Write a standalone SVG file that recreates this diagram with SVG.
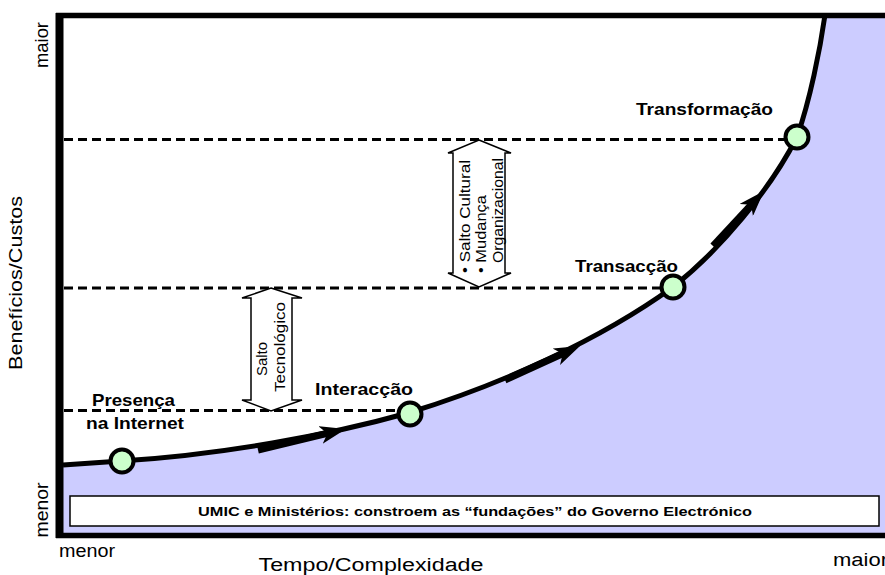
<svg xmlns="http://www.w3.org/2000/svg" width="885" height="575" viewBox="0 0 885 575">
<style>
text{font-family:"Liberation Sans",Arial,sans-serif;fill:#000}
.lbl{font-size:17px;font-weight:bold}
.ax{font-size:18px}
.sm{font-size:15px}
.dash{stroke:#000;stroke-width:3;stroke-dasharray:9 5;fill:none}
.dbl{fill:#fff;stroke:#000;stroke-width:1.5}
.node circle{fill:#CCFFCC;stroke:#000;stroke-width:4}
.thick{stroke:#000;stroke-width:7;fill:none;marker-end:url(#stealth)}
</style>
<defs>
<marker id="stealth" markerUnits="userSpaceOnUse" markerWidth="26" markerHeight="18" refX="8" refY="9" orient="auto">
<path d="M0,0 L26,9 L0,18 L7,9 Z" fill="#000"/>
</marker>
</defs>
<rect width="885" height="575" fill="#fff"/>
<g id="area">
<path d="M 63 465 C 90 463, 105 462, 121 461 C 220 455, 330 435, 408 413 C 500 385, 600 340, 673 287 C 720 250, 770 190, 797 137 C 810 100, 820 50, 825 15 L 885 15 L 885 535 L 63 535 Z" fill="#CCCCFF"/>
</g>
<g id="axes" stroke="#000" fill="none">
<line x1="59.5" y1="13" x2="59.5" y2="538" stroke-width="8"/>
<line x1="56" y1="15.5" x2="885" y2="15.5" stroke-width="5.5"/>
<line x1="56" y1="535.5" x2="885" y2="535.5" stroke-width="5.5"/>
</g>
<g id="levels">
<line class="dash" x1="64" y1="139.5" x2="797" y2="139.5"/>
<line class="dash" x1="64" y1="288" x2="673" y2="288"/>
<line class="dash" x1="64" y1="410.5" x2="410" y2="410.5"/>
</g>
<g id="salto-tecnologico">
<polygon class="dbl" points="271,288 302,298 292,298 292,400 302,400 271,411 242,400 251,400 251,298 242,298"/>
<text class="sm" transform="translate(267,359) rotate(-90)" text-anchor="middle">Salto</text>
<text class="sm" transform="translate(285,347) rotate(-90)" text-anchor="middle" textLength="90" lengthAdjust="spacingAndGlyphs">Tecnológico</text>
</g>
<g id="salto-cultural">
<polygon class="dbl" points="479,140 511,153 505,153 505,273 511,273 479,287 448,273 453,273 453,153 448,153"/>
<text class="sm" transform="translate(470,273) rotate(-90)" textLength="113" lengthAdjust="spacingAndGlyphs">• Salto Cultural</text>
<text class="sm" transform="translate(486,273) rotate(-90)" textLength="78" lengthAdjust="spacingAndGlyphs">• Mudança</text>
<text class="sm" transform="translate(503,263) rotate(-90)" textLength="105" lengthAdjust="spacingAndGlyphs">Organizacional</text>
</g>
<g id="connectors">
<path d="M 63 465 C 90 463, 105 462, 121 461 C 220 455, 330 435, 408 413 C 500 385, 600 340, 673 287 C 720 250, 770 190, 797 137 C 810 100, 820 50, 825 15" fill="none" stroke="#000" stroke-width="5"/>
<line class="thick" x1="258" y1="450" x2="328.4" y2="433.2"/>
<line class="thick" x1="505" y1="380" x2="563.6" y2="353.4"/>
<line class="thick" x1="713" y1="246" x2="751.8" y2="204.1"/>
</g>
<g id="presenca" class="node">
<circle cx="122" cy="461" r="11.5"/>
<text class="lbl" x="92" y="406" textLength="83" lengthAdjust="spacingAndGlyphs">Presença</text>
<text class="lbl" x="86" y="429" textLength="98" lengthAdjust="spacingAndGlyphs">na Internet</text>
</g>
<g id="interaccao" class="node">
<circle cx="410" cy="414" r="11.5"/>
<text class="lbl" x="315" y="395" textLength="98" lengthAdjust="spacingAndGlyphs">Interacção</text>
</g>
<g id="transaccao" class="node">
<circle cx="673" cy="287" r="11.5"/>
<text class="lbl" x="575" y="272" textLength="103" lengthAdjust="spacingAndGlyphs">Transacção</text>
</g>
<g id="transformacao" class="node">
<circle cx="797" cy="137" r="11.5"/>
<text class="lbl" x="636" y="115" textLength="137" lengthAdjust="spacingAndGlyphs">Transformação</text>
</g>
<g id="umic">
<rect x="70" y="496" width="809" height="30" fill="#fff" stroke="#000" stroke-width="1.5"/>
<text x="475" y="516" text-anchor="middle" font-size="13.5" font-weight="bold" textLength="554" lengthAdjust="spacingAndGlyphs">UMIC e Ministérios: constroem as “fundações” do Governo Electrónico</text>
</g>
<g id="axis-labels">
<text class="ax" transform="translate(48,45) rotate(-90)" text-anchor="middle" textLength="46" lengthAdjust="spacingAndGlyphs">maior</text>
<text class="ax" transform="translate(48,510) rotate(-90)" text-anchor="middle" textLength="55" lengthAdjust="spacingAndGlyphs">menor</text>
<text class="ax" transform="translate(22,283) rotate(-90)" text-anchor="middle" textLength="174" lengthAdjust="spacingAndGlyphs">Benefícios/Custos</text>
<text class="ax" x="59" y="557" textLength="56" lengthAdjust="spacingAndGlyphs">menor</text>
<text class="ax" x="833" y="566" textLength="55" lengthAdjust="spacingAndGlyphs">maior</text>
<text class="ax" x="371" y="571" text-anchor="middle" textLength="225" lengthAdjust="spacingAndGlyphs">Tempo/Complexidade</text>
</g>
</svg>
